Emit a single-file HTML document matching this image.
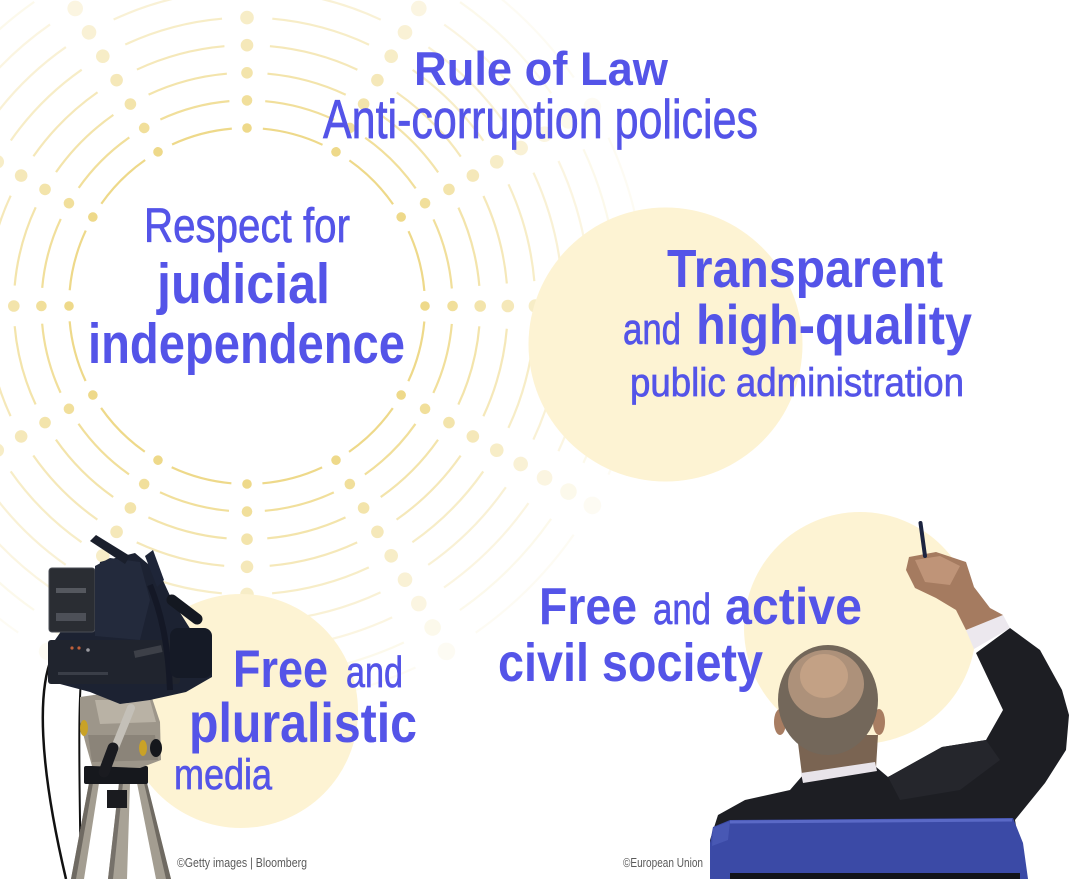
<!DOCTYPE html>
<html>
<head>
<meta charset="utf-8">
<style>
html,body{margin:0;padding:0;background:#fff;}
body{width:1081px;height:879px;overflow:hidden;}
svg{display:block;}
.t{font-family:"Liberation Sans",sans-serif;fill:#5454e8;}
.r{stroke:#5454e8;stroke-width:0.7px;}
.b{font-weight:700;}
.c{font-family:"Liberation Sans",sans-serif;fill:#5a5a5a;font-size:12.5px;}
</style>
</head>
<body>
<svg width="1081" height="879" viewBox="0 0 1081 879" xmlns="http://www.w3.org/2000/svg">
<defs>
<g id="ray" fill="#eed98a">
<circle cx="425" cy="306" r="4.8" opacity="1"/>
<circle cx="452.6" cy="306" r="5.3" opacity=".85"/>
<circle cx="480.2" cy="306" r="5.8" opacity=".72"/>
<circle cx="507.8" cy="306" r="6.3" opacity=".6"/>
<circle cx="535.4" cy="306" r="6.8" opacity=".48"/>
<circle cx="563" cy="306" r="7.3" opacity=".36"/>
<circle cx="590.6" cy="306" r="7.8" opacity=".26"/>
<circle cx="618.2" cy="306" r="8.3" opacity=".17"/>
<circle cx="645.8" cy="306" r="8.8" opacity=".1"/>
</g>
</defs>
<rect width="1081" height="879" fill="#fff"/>

<!-- concentric rings -->
<g fill="none" stroke="#eed98a" stroke-width="2.2">
<circle cx="247" cy="306" r="178" stroke-dasharray="62.13 31.07" stroke-dashoffset="77.67" opacity="1"/>
<circle cx="247" cy="306" r="205.6" stroke-dasharray="71.77 35.88" stroke-dashoffset="89.71" opacity=".85"/>
<circle cx="247" cy="306" r="233.2" stroke-dasharray="81.40 40.70" stroke-dashoffset="101.75" opacity=".72"/>
<circle cx="247" cy="306" r="260.8" stroke-dasharray="91.04 45.52" stroke-dashoffset="113.80" opacity=".6"/>
<circle cx="247" cy="306" r="288.4" stroke-dasharray="100.67 50.34" stroke-dashoffset="125.84" opacity=".48"/>
<circle cx="247" cy="306" r="316" stroke-dasharray="110.31 55.15" stroke-dashoffset="137.88" opacity=".36"/>
<circle cx="247" cy="306" r="343.6" stroke-dasharray="119.94 59.97" stroke-dashoffset="149.93" opacity=".26"/>
<circle cx="247" cy="306" r="371.2" stroke-dasharray="129.57 64.79" stroke-dashoffset="161.97" opacity=".17"/>
<circle cx="247" cy="306" r="398.8" stroke-dasharray="139.21 69.60" stroke-dashoffset="174.01" opacity=".1"/>
</g>
<use href="#ray"/>
<use href="#ray" transform="rotate(30 247 306)"/>
<use href="#ray" transform="rotate(60 247 306)"/>
<use href="#ray" transform="rotate(90 247 306)"/>
<use href="#ray" transform="rotate(120 247 306)"/>
<use href="#ray" transform="rotate(150 247 306)"/>
<use href="#ray" transform="rotate(180 247 306)"/>
<use href="#ray" transform="rotate(210 247 306)"/>
<use href="#ray" transform="rotate(240 247 306)"/>
<use href="#ray" transform="rotate(270 247 306)"/>
<use href="#ray" transform="rotate(300 247 306)"/>
<use href="#ray" transform="rotate(330 247 306)"/>

<!-- cream circles -->
<circle cx="665.5" cy="344.5" r="137" fill="#fdf3d3"/>
<circle cx="241" cy="711" r="117" fill="#fdf3d3"/>
<circle cx="860" cy="628" r="116" fill="#fdf3d3"/>

<!-- texts -->
<text class="t b" x="414" y="85" font-size="47" textLength="254" lengthAdjust="spacingAndGlyphs">Rule of Law</text>
<text class="t r" x="323" y="138" font-size="55" textLength="435" lengthAdjust="spacingAndGlyphs">Anti-corruption policies</text>

<text class="t r" x="144" y="242" font-size="48" textLength="206" lengthAdjust="spacingAndGlyphs">Respect for</text>
<text class="t b" x="157" y="303" font-size="57" textLength="173" lengthAdjust="spacingAndGlyphs">judicial</text>
<text class="t b" x="88" y="363" font-size="57" textLength="317" lengthAdjust="spacingAndGlyphs">independence</text>

<text class="t b" x="667" y="287" font-size="54" textLength="276" lengthAdjust="spacingAndGlyphs">Transparent</text>
<text class="t r" x="623" y="344" font-size="44" textLength="58" lengthAdjust="spacingAndGlyphs">and</text>
<text class="t b" x="696" y="344" font-size="56" textLength="276" lengthAdjust="spacingAndGlyphs">high-quality</text>
<text class="t r" x="630" y="396" font-size="40" textLength="334" lengthAdjust="spacingAndGlyphs">public administration</text>

<text class="t b" x="539" y="624" font-size="52" textLength="98" lengthAdjust="spacingAndGlyphs">Free</text>
<text class="t r" x="653" y="624" font-size="44" textLength="58" lengthAdjust="spacingAndGlyphs">and</text>
<text class="t b" x="725" y="624" font-size="52" textLength="137" lengthAdjust="spacingAndGlyphs">active</text>
<text class="t b" x="498" y="681" font-size="54" textLength="265" lengthAdjust="spacingAndGlyphs">civil society</text>

<text class="t b" x="233" y="687" font-size="53" textLength="95" lengthAdjust="spacingAndGlyphs">Free</text>
<text class="t r" x="346" y="687" font-size="44" textLength="57" lengthAdjust="spacingAndGlyphs">and</text>
<text class="t b" x="189" y="742" font-size="56" textLength="228" lengthAdjust="spacingAndGlyphs">pluralistic</text>
<text class="t r" x="174" y="789" font-size="43" textLength="98" lengthAdjust="spacingAndGlyphs">media</text>

<!-- camera on tripod -->
<g>
<path d="M52,657 C38,690 38,760 66,879" fill="none" stroke="#111" stroke-width="2.5"/>
<path d="M88,643 C78,665 78,720 81,879" fill="none" stroke="#111" stroke-width="2"/>
<polygon points="89,783 99,783 84,879 71,879" fill="#a39d91"/>
<polygon points="89,783 93,783 76,879 71,879" fill="#6f6a62"/>
<polygon points="119,783 130,783 127,879 108,879" fill="#a8a296"/>
<polygon points="119,783 123,783 113,879 108,879" fill="#76716a"/>
<polygon points="137,783 147,783 171,879 156,879" fill="#a39d91"/>
<polygon points="144,783 147,783 171,879 166,879" fill="#6f6a62"/>
<rect x="107" y="790" width="20" height="18" fill="#1a1b1f"/>
<rect x="84" y="766" width="64" height="18" rx="2" fill="#16181d"/>
<path d="M80,697 L128,690 L152,698 L160,722 L161,760 L140,768 L92,766 L86,745 L80,722 Z" fill="#9d968a"/>
<path d="M95,700 L150,700 L156,722 L100,724 Z" fill="#b9b2a5"/>
<path d="M88,735 L155,735 L158,760 L92,762 Z" fill="#8b8479"/>
<ellipse cx="84" cy="728" rx="4" ry="8" fill="#c9a227"/>
<ellipse cx="143" cy="748" rx="4" ry="8" fill="#c9a227"/>
<ellipse cx="156" cy="748" rx="6" ry="9" fill="#15171c"/>
<line x1="131" y1="708" x2="110" y2="760" stroke="#c4c0b8" stroke-width="8" stroke-linecap="round"/>
<line x1="113" y1="748" x2="104" y2="772" stroke="#1a1b20" stroke-width="11" stroke-linecap="round"/>
<path d="M48,650 L62,630 L95,598 L100,562 L135,553 L160,574 L172,600 L196,638 L212,650 L212,677 L186,692 L150,700 L120,704 L90,692 L60,684 L48,672 Z" fill="#1c2232"/>
<rect x="48" y="640" width="132" height="44" rx="3" fill="#20242e"/>
<rect x="49" y="568" width="46" height="64" rx="3" fill="#2a2d33" stroke="#4a4d55" stroke-width="1"/>
<rect x="56" y="588" width="30" height="5" fill="#55585f"/>
<rect x="56" y="613" width="30" height="8" fill="#4d5058"/>
<path d="M95,566 L110,558 L140,562 L150,600 L140,640 L95,636 Z" fill="#232a3c"/>
<polygon points="90,541 96,535 130,556 125,564" fill="#1a1f2c"/>
<polygon points="145,556 153,550 164,580 157,587" fill="#1e2538"/>
<path d="M150,585 C160,610 168,640 170,690" fill="none" stroke="#141826" stroke-width="6"/>
<line x1="172" y1="600" x2="197" y2="619" stroke="#141821" stroke-width="11" stroke-linecap="round"/>
<rect x="170" y="628" width="42" height="50" rx="8" fill="#151a26"/>
<rect x="134" y="648" width="28" height="7" fill="#3d4048" transform="rotate(-12 148 651)"/>
<circle cx="72" cy="648" r="1.6" fill="#c0603a"/>
<circle cx="79" cy="648" r="1.6" fill="#c0603a"/>
<circle cx="88" cy="650" r="1.8" fill="#9a9aa0"/>
<rect x="58" y="672" width="50" height="3" fill="#3a3e48"/>
</g>

<!-- man -->
<g>
<path d="M710,879 L710,840 L718,815 L745,800 L790,790 L803,775 L875,766 L888,777 L942,747 L986,740 L1003,710 L976,653 L1010,628 L1040,650 L1062,690 L1069,715 L1066,750 L1045,783 L1015,820 L1025,879 Z" fill="#1d1e23"/>
<path d="M888,777 L942,747 L986,740 L1000,760 L960,790 L900,800 Z" fill="#25262c"/>
<path d="M797,735 L878,735 L876,768 L802,775 Z" fill="#7a6452"/>
<polygon points="801,773 875,762 877,771 803,783" fill="#e8e4ea"/>
<ellipse cx="780" cy="722" rx="6" ry="13" fill="#a87d62"/>
<ellipse cx="879" cy="722" rx="6" ry="13" fill="#a87d62"/>
<ellipse cx="828" cy="700" rx="50" ry="55" fill="#73675a"/>
<ellipse cx="826" cy="684" rx="38" ry="34" fill="#ad917a"/>
<ellipse cx="824" cy="676" rx="24" ry="22" fill="#c3a185"/>
<polygon points="966,630 1003,615 1010,628 974,649" fill="#ece8ee"/>
<path d="M909,557 L936,552 L966,562 L974,587 L990,608 L1003,615 L966,630 L956,610 L936,598 L915,588 L906,570 Z" fill="#a57b60"/>
<path d="M915,560 L940,556 L960,566 L950,585 L925,582 Z" fill="#bf9478"/>
<line x1="920.5" y1="523" x2="925" y2="556" stroke="#1c2440" stroke-width="4" stroke-linecap="round"/>
<path d="M710,843 L713,827 L730,820 L1013,818 L1023,843 L1028,879 L710,879 Z" fill="#3b4aa6"/>
<path d="M730,822 L1012,820" stroke="#5a69c6" stroke-width="3"/>
<path d="M713,828 L730,821 L728,840 L712,846 Z" fill="#4858b4"/>
<rect x="730" y="873" width="290" height="6" fill="#121318"/>
</g>

<!-- credits -->
<text class="c" x="177" y="867" textLength="130" lengthAdjust="spacingAndGlyphs">©Getty images | Bloomberg</text>
<text class="c" x="623" y="867" textLength="80" lengthAdjust="spacingAndGlyphs">©European Union</text>
</svg>
</body>
</html>
